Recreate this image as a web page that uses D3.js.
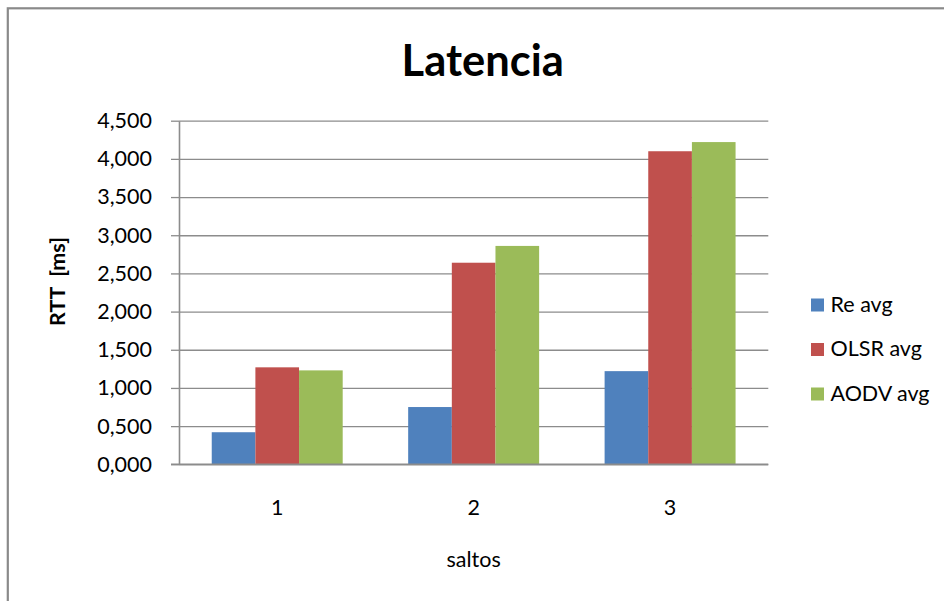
<!DOCTYPE html>
<html>
<head>
<meta charset="utf-8">
<script src="https://cdn.jsdelivr.net/npm/d3@7"></script>
<style>
  html, body { margin: 0; padding: 0; background: #ffffff; }
  svg { display: block; font-family: Lato, "Open Sans", sans-serif; }
</style>
</head>
<body>
<svg id="chart" width="944" height="601"></svg>
<script>
// Hop counts on the category axis
const categories = ["1", "2", "3"];
// Series names shown in the legend
const seriesNames = ["Re avg", "OLSR avg", "AODV avg"];
// Average round-trip time per hop count, one array per protocol
const reAvg   = [0.42, 0.75, 1.22];
const olsrAvg = [1.27, 2.64, 4.10];
const aodvAvg = [1.23, 2.86, 4.22];
// Value axis ticks
const yTicks = [0, 0.5, 1, 1.5, 2, 2.5, 3, 3.5, 4, 4.5];
const colors = ["#4F81BD", "#C0504D", "#9BBB59"];

const seriesValues = [reAvg, olsrAvg, aodvAvg];
const rows = categories.map((c, i) => ({
  cat: c,
  values: seriesNames.map((s, j) => ({ series: s, value: seriesValues[j][i], color: colors[j] }))
}));

const svg = d3.select("#chart");
const plot = { left: 179, right: 768.3, top: 120.7, bottom: 464.3 };
const labelSize = 21.5;

// Outer chart frame
svg.append("rect")
  .attr("x", 7.8).attr("y", 8.3)
  .attr("width", 1000).attr("height", 700)
  .attr("fill", "#ffffff")
  .attr("stroke", "#8a8a8a").attr("stroke-width", 2.2);

const y = d3.scaleLinear().domain([0, 4.5]).range([plot.bottom, plot.top]);
const x0 = d3.scaleBand().domain(categories).range([plot.left, plot.right]).padding(0);
const x1 = d3.scaleBand().domain(seriesNames).range([0, x0.bandwidth()])
  .paddingInner(0).paddingOuter(0.75);

const locale = d3.formatLocale({ decimal: ",", thousands: ".", grouping: [3], currency: ["", ""] });
const fmt = locale.format(".3f");

// Horizontal gridlines
const grid = svg.append("g")
  .attr("transform", `translate(${plot.left},0)`)
  .call(d3.axisLeft(y).tickValues(yTicks).tickSize(-(plot.right - plot.left)).tickFormat(""));
grid.select(".domain").remove();
grid.selectAll("line").attr("stroke", "#8c8c8c").attr("stroke-width", 1.3);

// Bars
const groups = svg.append("g").selectAll("g")
  .data(rows).join("g")
  .attr("transform", d => `translate(${x0(d.cat)},0)`);
groups.selectAll("rect")
  .data(d => d.values).join("rect")
  .attr("x", d => x1(d.series))
  .attr("width", x1.bandwidth())
  .attr("y", d => y(d.value))
  .attr("height", d => y(0) - y(d.value))
  .attr("fill", d => d.color);

// Value axis
const yAxis = svg.append("g")
  .attr("transform", `translate(${plot.left},0)`)
  .call(d3.axisLeft(y).tickValues(yTicks).tickFormat(fmt).tickSize(8).tickSizeOuter(0).tickPadding(19));
yAxis.select(".domain").attr("stroke", "#8c8c8c").attr("stroke-width", 1.6);
yAxis.selectAll("line").attr("stroke", "#8c8c8c").attr("stroke-width", 1.3);
yAxis.selectAll("text")
  .attr("font-family", "Lato, sans-serif")
  .attr("font-size", labelSize).attr("fill", "#000");

// Category axis
const xAxis = svg.append("g")
  .attr("transform", `translate(0,${plot.bottom})`)
  .call(d3.axisBottom(x0).tickSize(0).tickPadding(0));
xAxis.select(".domain").remove();
svg.append("line")
  .attr("x1", plot.left - 8).attr("x2", plot.right)
  .attr("y1", plot.bottom).attr("y2", plot.bottom)
  .attr("stroke", "#8c8c8c").attr("stroke-width", 1.6);
xAxis.selectAll("text")
  .attr("dy", null)
  .attr("y", 514.7 - plot.bottom)
  .attr("font-family", "Lato, sans-serif")
  .attr("font-size", labelSize).attr("fill", "#000");

// Title
svg.append("text")
  .attr("x", 482.7).attr("y", 75.7)
  .attr("text-anchor", "middle")
  .attr("font-weight", "bold").attr("font-size", 43.5)
  .text("Latencia");

// Axis titles
svg.append("text")
  .attr("transform", "translate(65,281.5) rotate(-90)")
  .attr("text-anchor", "middle")
  .attr("font-weight", "bold").attr("font-size", labelSize)
  .style("white-space", "pre")
  .text("RTT  [ms]");
svg.append("text")
  .attr("x", (plot.left + plot.right) / 2).attr("y", 567.3)
  .attr("text-anchor", "middle")
  .attr("font-size", labelSize)
  .text("saltos");

// Legend
const legend = svg.append("g").selectAll("g")
  .data(seriesNames).join("g")
  .attr("transform", (d, i) => `translate(811,${311.5 + i * 44.5})`);
legend.append("rect")
  .attr("x", 0).attr("y", -13)
  .attr("width", 13).attr("height", 13)
  .attr("fill", (d, i) => colors[i]);
legend.append("text")
  .attr("x", 19.5).attr("y", 0)
  .attr("font-size", labelSize)
  .text(d => d);
</script>
</body>
</html>
